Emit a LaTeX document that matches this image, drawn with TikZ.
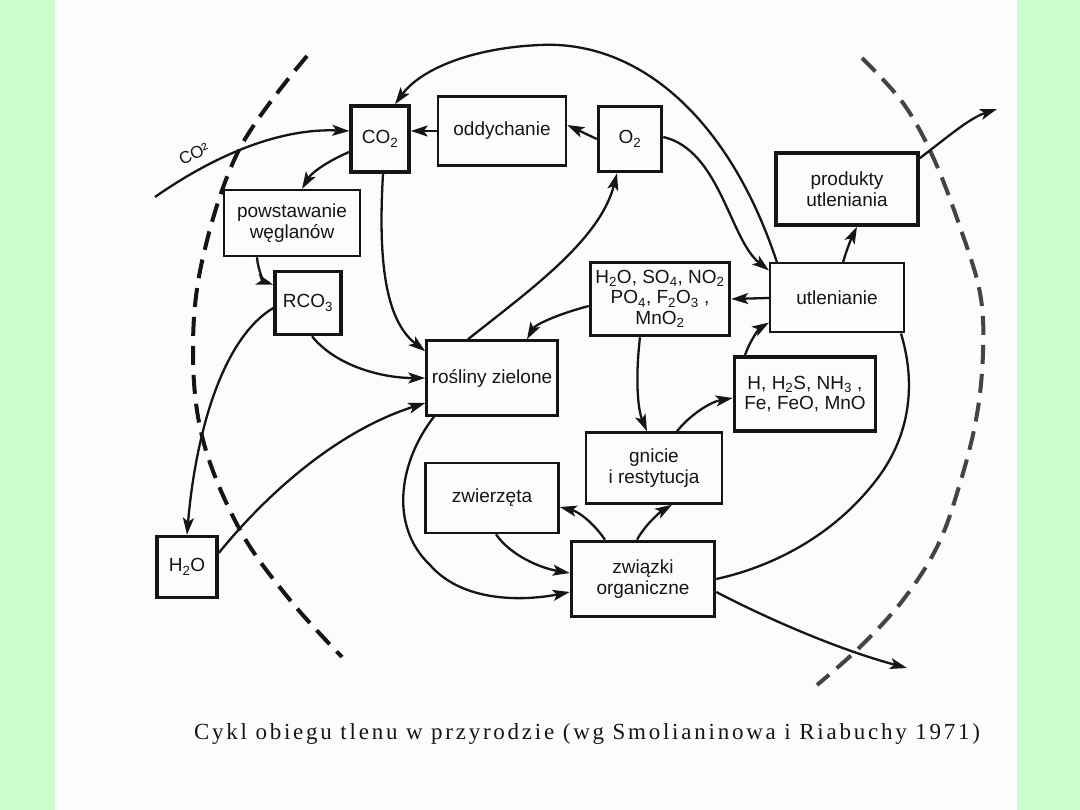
\documentclass[tikz,border=0pt]{standalone}
\usepackage{fontspec}
\setmainfont{Liberation Sans}
\newfontfamily\capfont[LetterSpace=12]{Liberation Serif}
\usetikzlibrary{arrows.meta}
\definecolor{sidegreen}{HTML}{CCFFCC}
\definecolor{paper}{HTML}{FCFCFC}
\definecolor{ink}{HTML}{151515}
\newcommand\bxfont{\fontsize{19}{20.5}\selectfont}
\newcommand\sbs[1]{\textsubscript{#1}}
\tikzset{
  box/.style={draw=ink, line width=2.5pt, inner sep=0pt, align=center, font=\bxfont, text=ink},
  thickbox/.style={box, line width=3.5pt},
  thinbox/.style={box, line width=2pt},
  arr/.style={draw=ink, line width=2.3pt, -{Stealth[length=17pt,width=11pt,inset=4pt]}},
  conn/.style={draw=ink, line width=2.3pt},
  boundary/.style={draw=ink, line width=4pt, dash pattern=on 19pt off 10pt}
}
\begin{document}
\begin{tikzpicture}[x=1pt,y=-1pt]
\useasboundingbox (0,0) rectangle (1080,810);
\fill[sidegreen] (0,0) rectangle (1080,810);
\fill[paper] (55,0) rectangle (1017,810);

% boundaries
\draw[boundary] plot[smooth, tension=0.6] coordinates {(307,56) (240,148) (203,257) (193,350) (203,440) (240,530) (290,600) (342,657)};
\draw[boundary, draw=ink!80] plot[smooth, tension=0.6] coordinates {(862,58) (903,103) (933,157) (960,227) (980,293) (983,353) (976,420) (958,490) (937,547) (903,600) (860,647) (817,685)};

% nodes
\node[thickbox, minimum width=58pt, minimum height=66pt] (co2) at (380,139) {CO\sbs{2}};
\node[box, minimum width=128pt, minimum height=69pt] (odd) at (502,131) {oddychanie};
\node[thickbox, minimum width=63pt, minimum height=65pt] (o2) at (630,139) {O\sbs{2}};
\node[box, minimum width=136pt, minimum height=66pt] (pow) at (292,223) {powstawanie\\węglanów};
\node[thickbox, minimum width=142pt, minimum height=72pt] (prod) at (847,189) {produkty\\utleniania};
\node[thinbox, minimum width=134pt, minimum height=69pt] (utl) at (837,298) {utlenianie};
\node[thickbox, minimum width=139pt, minimum height=73pt] (mix) at (660,299) {H\sbs{2}O, SO\sbs{4}, NO\sbs{2}\\PO\sbs{4}, F\sbs{2}O\sbs{3} ,\\MnO\sbs{2}};
\node[thickbox, minimum width=66pt, minimum height=63pt] (rco) at (308,303) {RCO\sbs{3}};
\node[box, minimum width=131pt, minimum height=75pt] (ros) at (492,378) {rośliny zielone};
\node[thickbox, minimum width=141pt, minimum height=74pt] (hhs) at (805,394) {H, H\sbs{2}S, NH\sbs{3} ,\\Fe, FeO, MnO};
\node[box, minimum width=136pt, minimum height=71pt] (gni) at (654,468) {gnicie\\i restytucja};
\node[box, minimum width=133pt, minimum height=70pt] (zwi) at (492,498) {zwierzęta};
\node[thickbox, minimum width=60pt, minimum height=61pt] (h2o) at (187,567) {H\sbs{2}O};
\node[thickbox, minimum width=143pt, minimum height=75pt] (zor) at (643,579) {związki\\organiczne};

% free ends
\coordinate (extco2) at (155,197);
\coordinate (outtop) at (997,109);
\coordinate (outbot) at (907,668);

% external CO2
\draw[arr] (extco2) .. controls (215,155) and (280,128) .. ([yshift=8pt]co2.west);
\node[font=\fontsize{17}{17}\selectfont, text=ink, rotate=25] (co2lab) at (194,154) {CO²};

% top row
\draw[arr] (odd.west) -- (co2.east |- odd.west);
\draw[arr] (o2.west) -- ([yshift=6pt]odd.east);
\draw[arr] ([xshift=8pt]utl.north west) .. controls (730,120) and (640,40) .. (540,45) .. controls (470,48) and (420,70) .. ([xshift=15pt]co2.north);
\draw[arr] ([yshift=2pt]o2.east) .. controls (720,150) and (730,240) .. ([yshift=-8pt]utl.north west);

% right side
\draw[arr] ([xshift=6pt]utl.north) .. controls (848,245) and (853,235) .. ([xshift=10pt]prod.south);
\draw[arr] ([yshift=-7pt]prod.north east) .. controls (950,135) and (970,118) .. (outtop);
\draw[arr] (utl.west) -- (mix.east);
\draw[arr] ([yshift=-7pt]mix.west) .. controls (555,315) and (535,325) .. ([xshift=35pt]ros.north);
\draw[arr] ([xshift=-20pt]mix.south) .. controls (635,380) and (638,410) .. ([xshift=-7pt]gni.north);
\draw[arr] ([xshift=23pt]gni.north) .. controls (690,415) and (710,402) .. ([yshift=-4pt]hhs.west);
\draw[arr] ([xshift=-60pt]hhs.north) .. controls (750,340) and (760,328) .. ([yshift=11pt]utl.south west);
\draw[conn] ([xshift=-4pt]utl.south east) .. controls (915,380) and (912,430) .. (880,475) .. controls (840,530) and (780,565) .. (zor.east);
\draw[arr] ([yshift=-13pt]zor.east) .. controls (770,620) and (840,650) .. (outbot);

% bottom
\draw[arr] ([xshift=-38pt]zor.north) .. controls (595,525) and (580,512) .. ([yshift=-9pt]zwi.east);
\draw[arr] ([xshift=-6pt]zor.north) .. controls (645,525) and (660,512) .. ([xshift=18pt]gni.south);
\draw[arr] ([xshift=4pt]zwi.south) .. controls (510,555) and (540,568) .. ([yshift=6pt]zor.west);
\draw[arr] ([xshift=-58pt]ros.south) .. controls (400,460) and (388,525) .. (430,565) .. controls (465,605) and (530,600) .. ([yshift=-13pt]zor.west);

% left side
\draw[arr] ([xshift=-24pt]ros.north) .. controls (530,290) and (600,240) .. ([xshift=-13pt]o2.south);
\draw[arr] ([xshift=3pt]co2.south) .. controls (378,260) and (385,320) .. ([yshift=-12pt]ros.north west);
\draw[arr] ([yshift=-13pt]co2.west) .. controls (330,160) and (312,172) .. ([xshift=10pt]pow.north);
\draw[arr] ([xshift=-35pt]pow.south) .. controls (258,272) and (265,282) .. ([yshift=-15pt]rco.north west);
\draw[arr] ([xshift=4pt]rco.south) .. controls (335,365) and (380,378) .. (ros.west);
\draw[arr] ([yshift=-5pt]rco.west) .. controls (220,340) and (195,440) .. (h2o.north);
\draw[arr] ([yshift=14pt]h2o.east) .. controls (270,490) and (340,430) .. ([yshift=-25pt]ros.west);

% caption
\node[font=\capfont\fontsize{23}{24}\selectfont, text=ink, anchor=base] (cap) at (587,739) {Cykl obiegu tlenu w przyrodzie (wg Smolianinowa i Riabuchy 1971)};
\end{tikzpicture}
\end{document}
